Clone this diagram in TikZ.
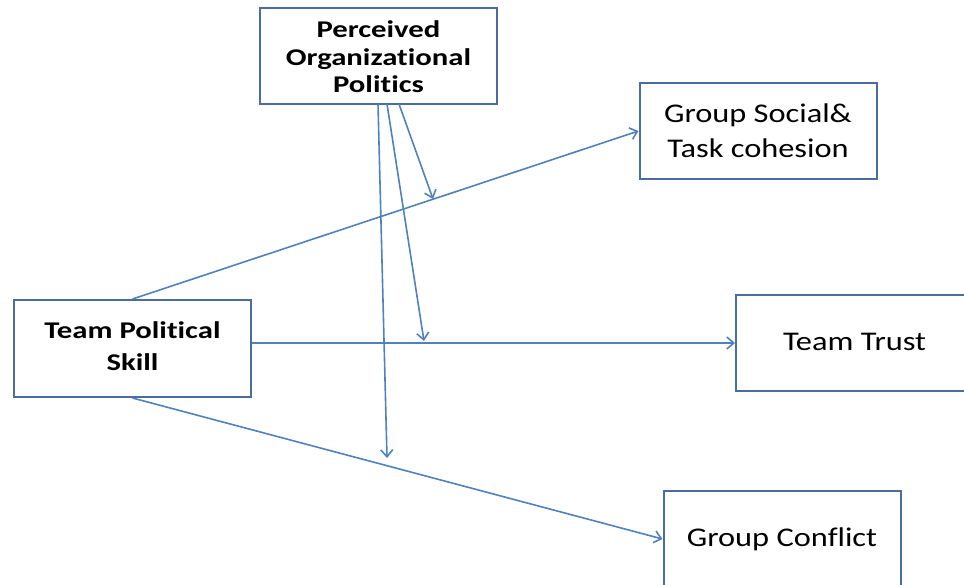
\documentclass[tikz,border=0pt]{standalone}
\usepackage{fontspec}
\setmainfont[Ligatures=NoCommon]{Carlito}
\usetikzlibrary{arrows.meta}
\definecolor{linkblue}{RGB}{79,129,189}
\definecolor{boxblue}{RGB}{74,108,158}
\newcommand{\boxtext}[4]{\scalebox{#1}[1]{\fontsize{#2}{#3}\selectfont\begin{tabular}{@{}c@{}}#4\end{tabular}}}
\tikzset{
  varbox/.style={draw=boxblue, line width=2pt, rectangle, inner sep=0pt,
    minimum width=237pt, minimum height=96pt, text=black, anchor=center},
  link/.style={draw=linkblue, line width=1.6pt,
    -{Straight Barb[length=7pt,width=12pt,line width=1.6pt]}},
}
\begin{document}
\begin{tikzpicture}[x=1pt,y=-1pt]
\useasboundingbox (0,0) rectangle (964,585);
\node[varbox] (pop) at (378.5,56) {\raisebox{-4pt}[\height][\depth]{\boxtext{1.28}{24}{27.5}{\bfseries Perceived\\\bfseries Organizational\\\bfseries Politics}}};
\node[varbox] (gsc) at (758,131) {\raisebox{-2pt}[\height][\depth]{\boxtext{1.2}{27}{35}{Group Social\&\\Task cohesion}}};
\node[varbox, minimum height=97pt] (tps) at (132.5,348.5) {\boxtext{1.28}{24}{32}{\bfseries Team Political\\\bfseries Skill}};
\node[varbox] (tt) at (854.5,343) {\boxtext{1.2}{27}{35}{Team Trust}};
\node[varbox] (gc) at (782,539) {\boxtext{1.2}{27}{35}{Group Conflict}};
% start points on the bottom of the politics box
\coordinate (s1) at (378,104);
\coordinate (s2) at (387,104);
\coordinate (s3) at (399,104);
% moderation arrow tips on the direct paths
\coordinate (m1) at (433,199);
\coordinate (m2) at (424,341);
\coordinate (m3) at (387,458);
\draw[link] (tps.north) -- (gsc.west);
\draw[link] (tt.west -| tps.east) -- (tt.west);
\draw[link] (tps.south) -- (gc.west);
\draw[link] (s3) -- (m1);
\draw[link] (s2) -- (m2);
\draw[link] (s1) -- (m3);
\end{tikzpicture}
\end{document}
